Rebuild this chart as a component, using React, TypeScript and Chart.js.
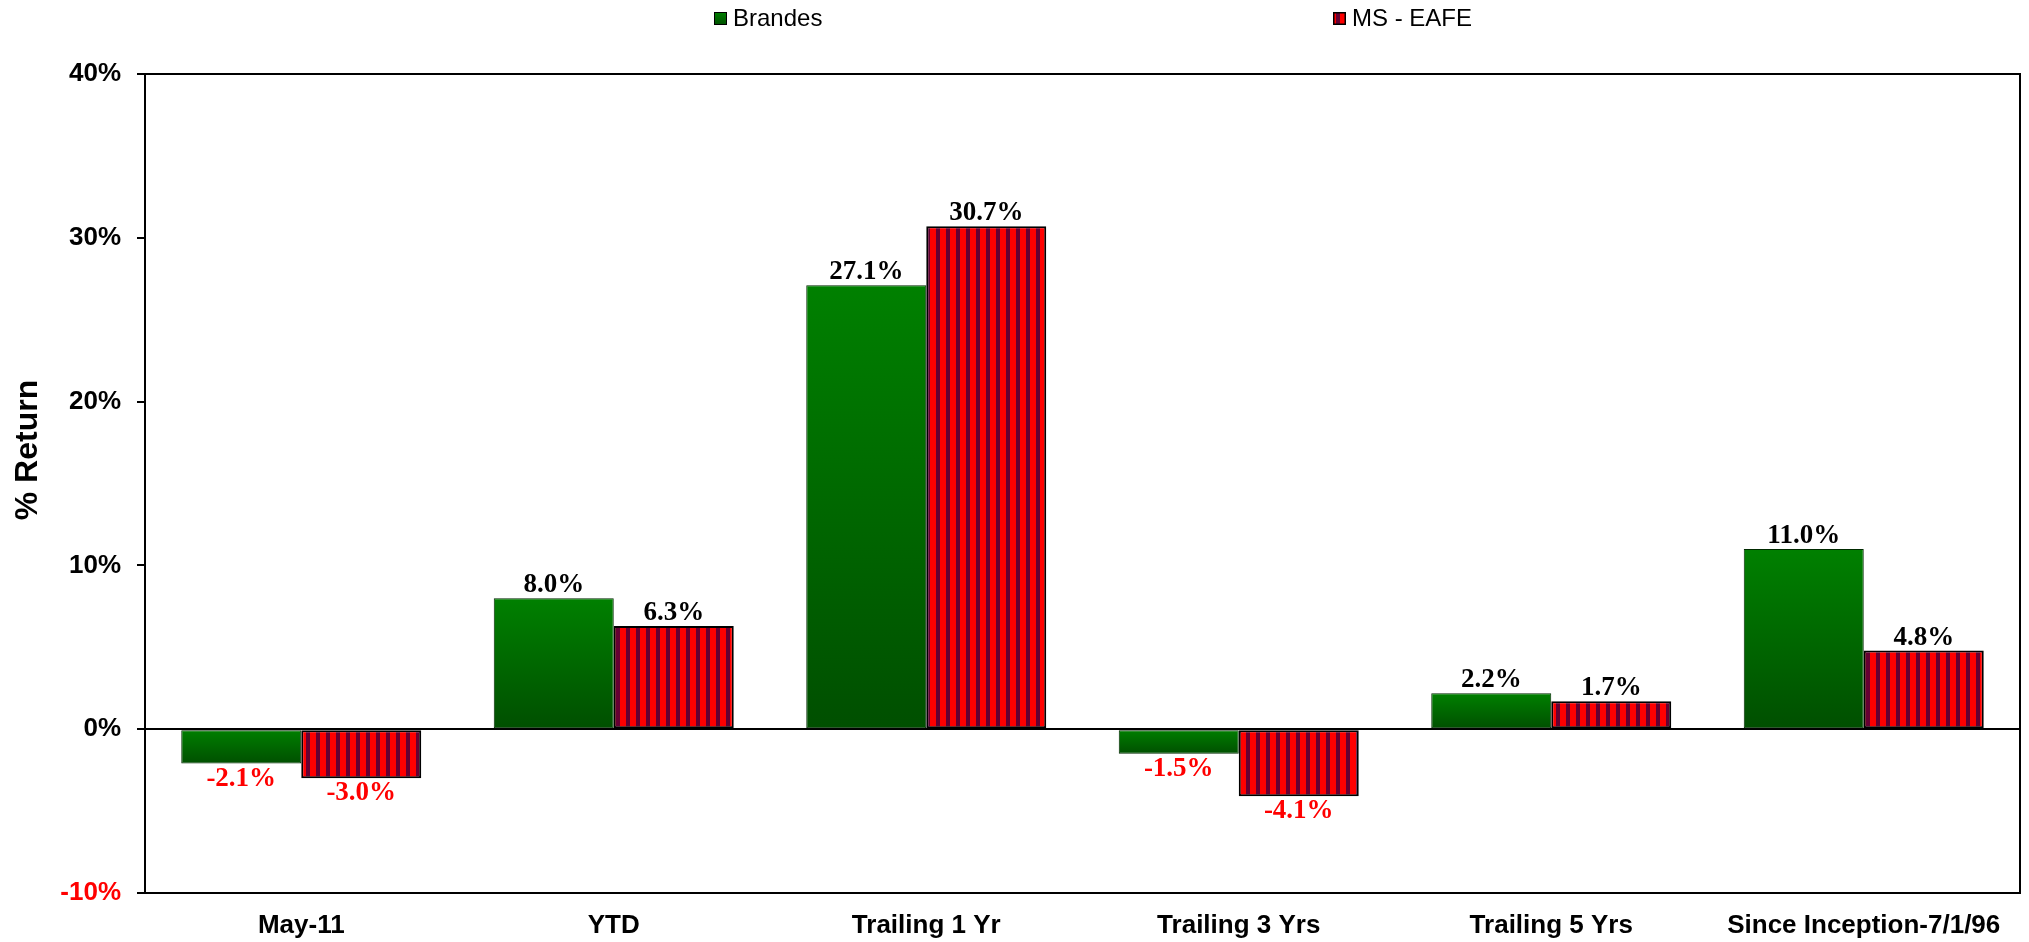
import React, { useEffect, useRef } from 'react';
import { Chart, registerables } from 'chart.js';

Chart.register(...registerables);

const categories = ['May-11', 'YTD', 'Trailing 1 Yr', 'Trailing 3 Yrs', 'Trailing 5 Yrs', 'Since Inception-7/1/96'];
const brandesValues = [-2.1, 8.0, 27.1, -1.5, 2.2, 11.0];
const eafeValues = [-3.0, 6.3, 30.7, -4.1, 1.7, 4.8];
const seriesNames = ['Brandes', 'MS - EAFE'];
const yMin = -10;
const yMax = 40;
const yStep = 10;
const yTitle = '% Return';

const GREEN_TOP = '#008000';
const GREEN_BOTTOM = '#004f00';
const STRIPE_RED = '#ff0000';
const STRIPE_DARK = '#660033';
const SANS = '"Liberation Sans", Arial, sans-serif';
const SERIF = '"Liberation Serif", "Times New Roman", serif';

function makeStripePattern(): CanvasPattern | string {
  const c = document.createElement('canvas');
  c.width = 10;
  c.height = 10;
  const g = c.getContext('2d');
  if (!g) return STRIPE_RED;
  g.fillStyle = STRIPE_RED;
  g.fillRect(0, 0, 6, 10);
  g.fillStyle = STRIPE_DARK;
  g.fillRect(6, 0, 4, 10);
  const p = g.createPattern(c, 'repeat');
  return p || STRIPE_RED;
}

const decorPlugin = {
  id: 'decor',
  afterDatasetsDraw(chart: any) {
    const ctx = chart.ctx;
    ctx.save();
    ctx.font = `bold 27px ${SERIF}`;
    ctx.textAlign = 'center';
    ctx.textBaseline = 'alphabetic';
    chart.data.datasets.forEach((ds: any, di: number) => {
      const meta = chart.getDatasetMeta(di);
      meta.data.forEach((el: any, i: number) => {
        const v = ds.data[i] as number;
        const txt = v.toFixed(1) + '%';
        if (v >= 0) {
          ctx.fillStyle = '#000';
          ctx.fillText(txt, el.x, el.y - 6);
        } else {
          ctx.fillStyle = '#ff0000';
          ctx.fillText(txt, el.x, el.y + 22);
        }
      });
    });
    ctx.restore();
  },
  afterDraw(chart: any) {
    const ctx = chart.ctx;
    const a = chart.chartArea;
    ctx.save();
    // plot area frame (top and right)
    ctx.strokeStyle = '#000';
    ctx.lineWidth = 2;
    ctx.beginPath();
    ctx.moveTo(a.left, a.top);
    ctx.lineTo(a.right, a.top);
    ctx.lineTo(a.right, a.bottom);
    ctx.stroke();

    // y axis title
    ctx.save();
    ctx.translate(36.5, 450);
    ctx.rotate(-Math.PI / 2);
    ctx.font = `bold 32px ${SANS}`;
    ctx.fillStyle = '#000';
    ctx.textAlign = 'center';
    ctx.textBaseline = 'alphabetic';
    ctx.fillText(yTitle, 0, 0);
    ctx.restore();

    // legend
    const items = [
      { x: 714, text: seriesNames[0], kind: 'green' },
      { x: 1333, text: seriesNames[1], kind: 'red' },
    ];
    ctx.font = `24px ${SANS}`;
    ctx.textBaseline = 'middle';
    ctx.textAlign = 'left';
    items.forEach((it) => {
      const bx = it.x, by = 12, bs = 13;
      if (it.kind === 'green') {
        const g = ctx.createLinearGradient(0, by, 0, by + bs);
        g.addColorStop(0, GREEN_TOP);
        g.addColorStop(1, GREEN_BOTTOM);
        ctx.fillStyle = g;
        ctx.fillRect(bx, by, bs, bs);
        ctx.strokeStyle = '#000';
        ctx.lineWidth = 1;
        ctx.strokeRect(bx + 0.5, by + 0.5, bs - 1, bs - 1);
      } else {
        ctx.fillStyle = chart.data.datasets[1].backgroundColor;
        ctx.fillRect(bx, by, bs, bs);
        ctx.strokeStyle = '#000';
        ctx.lineWidth = 1.5;
        ctx.strokeRect(bx + 0.75, by + 0.75, bs - 1.5, bs - 1.5);
      }
      ctx.fillStyle = '#000';
      ctx.fillText(it.text, bx + bs + 6, by + 7);
    });
    ctx.restore();
  },
};

export default function App() {
  const ref = useRef<HTMLCanvasElement | null>(null);

  useEffect(() => {
    if (!ref.current) return;
    const stripes = makeStripePattern();
    const greenFill = (c: any) => {
      const chart = c.chart;
      const y = chart.scales && chart.scales.y;
      if (c.type !== 'data' || !y || !chart.chartArea) return GREEN_TOP;
      const v = c.raw as number;
      const y0 = y.getPixelForValue(0);
      const y1 = y.getPixelForValue(v);
      const top = Math.min(y0, y1);
      const bot = Math.max(y0, y1);
      const g = chart.ctx.createLinearGradient(0, top, 0, bot + 0.01);
      g.addColorStop(0, GREEN_TOP);
      g.addColorStop(1, GREEN_BOTTOM);
      return g;
    };

    const chart = new Chart(ref.current, {
      type: 'bar',
      data: {
        labels: categories,
        datasets: [
          {
            label: seriesNames[0],
            data: brandesValues,
            backgroundColor: greenFill,
            borderColor: '#002a00',
            borderWidth: 1,
            borderSkipped: false,
            categoryPercentage: 0.768,
            barPercentage: 1.0,
          },
          {
            label: seriesNames[1],
            data: eafeValues,
            backgroundColor: stripes as any,
            borderColor: '#000000',
            borderWidth: 2,
            borderSkipped: false,
            categoryPercentage: 0.768,
            barPercentage: 1.0,
          },
        ],
      },
      options: {
        animation: false,
        responsive: true,
        maintainAspectRatio: false,
        devicePixelRatio: 1,
        layout: { padding: { left: 0, top: 74, right: 9, bottom: 0 } },
        plugins: {
          legend: { display: false },
          tooltip: { enabled: false },
          title: { display: false },
        },
        scales: {
          x: {
            afterFit: (s: any) => { s.height = 49; },
            grid: { display: true, color: 'rgba(0,0,0,0)', drawTicks: false },
            border: { display: true, color: '#000', width: 2 },
            ticks: {
              color: '#000',
              font: { family: SANS, size: 26, weight: 'bold' },
              padding: 17,
              maxRotation: 0,
              autoSkip: false,
            },
          },
          y: {
            min: yMin,
            max: yMax,
            afterFit: (s: any) => { s.width = 145; },
            grid: {
              color: (c: any) => (c.tick && c.tick.value === 0 ? '#000' : 'rgba(0,0,0,0)'),
              lineWidth: 2,
              tickColor: '#000',
              tickLength: 8,
              drawTicks: true,
            },
            border: { display: true, color: '#000', width: 2 },
            ticks: {
              stepSize: yStep,
              padding: 16,
              color: (c: any) => (c.tick && c.tick.value < 0 ? '#ff0000' : '#000'),
              font: { family: SANS, size: 26, weight: 'bold' },
              callback: (v: any) => `${v}%`,
            },
          },
        },
      },
      plugins: [decorPlugin],
    });
    return () => chart.destroy();
  }, []);

  return (
    <div style={{ position: 'absolute', left: 0, top: 0, width: 2029, height: 942, background: '#fff' }}>
      <canvas ref={ref} />
    </div>
  );
}
